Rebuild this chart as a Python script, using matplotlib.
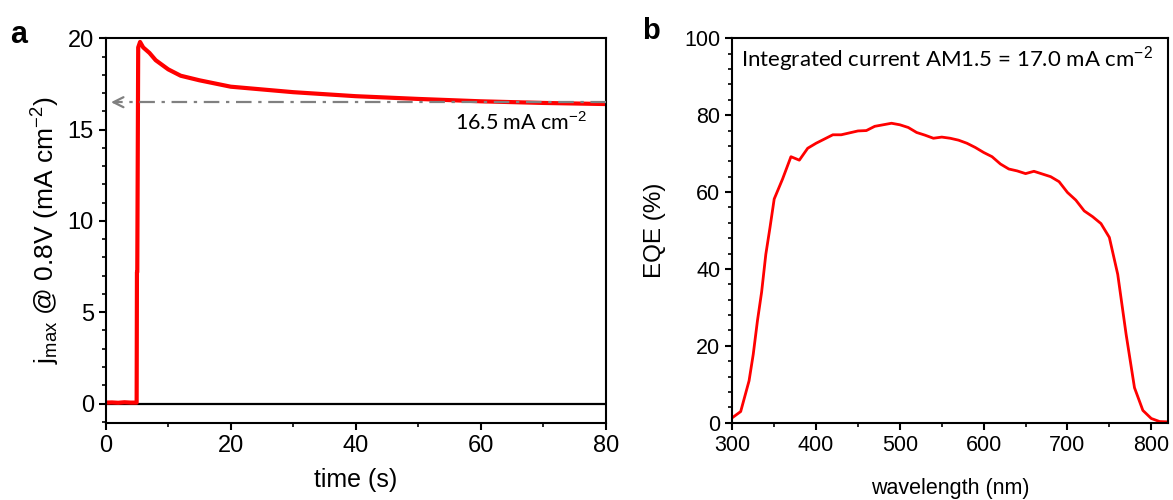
# Chronoamperometrie (a) und EQE-Spektrum (b)

import matplotlib
matplotlib.use('Agg')
import matplotlib.pyplot as plt
from matplotlib.ticker import MultipleLocator

plt.rcParams['font.family'] = ['Liberation Sans', 'DejaVu Sans']
plt.rcParams['mathtext.fontset'] = 'custom'
plt.rcParams['mathtext.rm'] = 'Liberation Sans'
plt.rcParams['mathtext.it'] = 'Liberation Sans:italic'

# Messwerte a: j_max bei 0.8 V ueber der Zeit
t = [0, 1, 2, 3, 4, 4.95, 5.0, 5.05, 5.2, 5.5, 6, 7, 8, 10, 12, 15, 20, 25, 30,
     40, 50, 60, 70, 80]
j = [0.05, 0.06, 0.04, 0.07, 0.05, 0.05, 7.2, 7.2, 19.5, 19.8, 19.5, 19.2,
     18.8, 18.3, 17.95, 17.7, 17.35, 17.2, 17.05, 16.83, 16.68, 16.55, 16.46, 16.4]
j_stat = 16.5

# Messwerte b: EQE ueber der Wellenlaenge
wl = [300, 310, 320, 325, 330, 335, 340, 345, 350, 360, 370, 380, 390, 400,
      410, 420, 430, 440, 450, 460, 470, 480, 490, 500, 510, 520, 530, 540,
      550, 560, 570, 580, 590, 600, 610, 620, 630, 640, 650, 660, 670, 680,
      690, 700, 710, 720, 730, 740, 750, 760, 770, 780, 790, 800, 810, 820]
eqe = [1.3, 2.9, 10.9, 17.8, 26.5, 34.0, 43.8, 50.8, 58.2, 63.4, 69.2, 68.3,
       71.4, 72.7, 73.8, 74.9, 74.9, 75.4, 75.9, 76.0, 77.1, 77.5, 77.9, 77.5,
       76.8, 75.5, 74.8, 74.0, 74.3, 74.0, 73.5, 72.7, 71.6, 70.3, 69.2, 67.3,
       66.0, 65.5, 64.8, 65.4, 64.7, 64.0, 62.7, 59.9, 57.9, 55.1, 53.6, 51.8,
       48.2, 38.6, 23.0, 9.1, 3.2, 1.1, 0.3, 0.2]

fig = plt.figure(figsize=(11.73, 5), dpi=100)
ax1 = fig.add_axes([105.7/1173, 1-422.7/500, 500/1173, 384.4/500])
ax2 = fig.add_axes([732.3/1173, 1-422.7/500, 435.7/1173, 384.4/500])

for ax in (ax1, ax2):
    for s in ax.spines.values():
        s.set_linewidth(1.5)
    ax.tick_params(which='major', direction='out', length=5, width=1.5,
                   top=False, right=False)
    ax.tick_params(which='minor', direction='out', length=3, width=1.2,
                   top=False, right=False)

# Teil a
ax1.axhline(0, color='k', lw=1.6, zorder=1)
ax1.plot(t, j, color='#ff0000', lw=3.0, zorder=2)
ax1.plot([80, 1.5], [j_stat, j_stat], color='#808080', lw=1.6,
         ls=(0, (7, 3, 1.5, 3)), zorder=3)
ax1.annotate('', xy=(0.4, j_stat), xytext=(2.5, j_stat),
             arrowprops=dict(arrowstyle='->', color='#808080', lw=1.6,
                             mutation_scale=18), zorder=3)
ax1.text(77, 15.4, r'16.5 mA cm$^{-2}$', family=['Lato', 'DejaVu Sans'],
         fontsize=15.5, ha='right', va='center')
ax1.set_xlim(0, 80)
ax1.set_ylim(-1.05, 20)
ax1.xaxis.set_major_locator(MultipleLocator(20))
ax1.xaxis.set_minor_locator(MultipleLocator(10))
ax1.yaxis.set_major_locator(MultipleLocator(5))
ax1.yaxis.set_minor_locator(MultipleLocator(1))
ax1.tick_params(labelsize=17)
ax1.set_xlabel('time (s)', fontsize=18, labelpad=8)
ax1.set_ylabel(r'j$_{\rm max}$ @ 0.8V (mA cm$^{-2}$)', fontsize=19, labelpad=4)

# Teil b
ax2.plot(wl, eqe, color='#ff0000', lw=2.0)
ax2.text(0.02, 0.985, r'Integrated current AM1.5 = 17.0 mA cm$^{-2}$',
         family=['Lato', 'DejaVu Sans'], fontsize=16, transform=ax2.transAxes,
         ha='left', va='top')
ax2.set_xlim(300, 820)
ax2.set_ylim(0, 100)
ax2.xaxis.set_major_locator(MultipleLocator(100))
ax2.xaxis.set_minor_locator(MultipleLocator(50))
ax2.yaxis.set_major_locator(MultipleLocator(20))
ax2.yaxis.set_minor_locator(MultipleLocator(4))
ax2.tick_params(labelsize=15.5)
ax2.set_xlabel('wavelength (nm)', fontsize=15.5, labelpad=16)
ax2.set_ylabel('EQE (%)', fontsize=17.5, labelpad=13)

fig.text(10/1173, 1-20/500, 'a', fontsize=22, fontweight='bold', va='top')
fig.text(642/1173, 1-17/500, 'b', fontsize=21, fontweight='bold', va='top')

plt.savefig('out.png', dpi=100)
